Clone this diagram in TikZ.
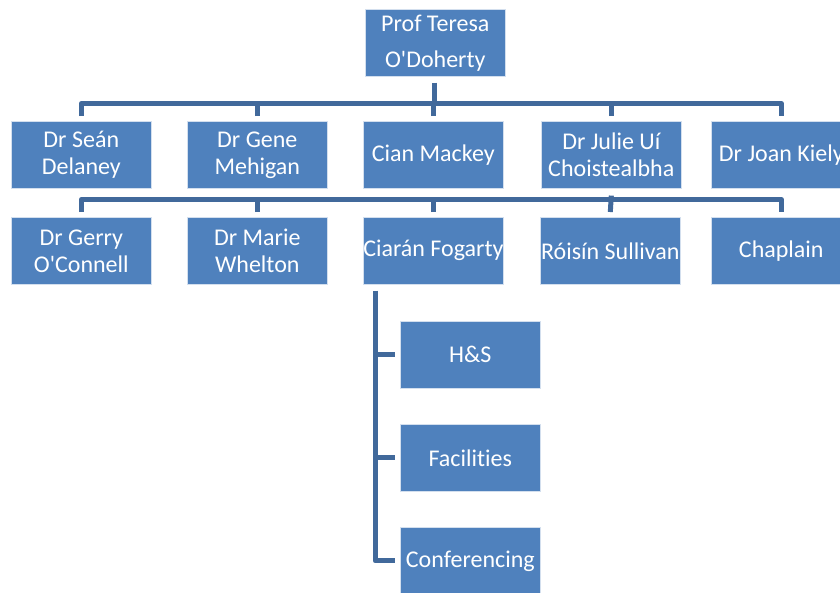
\documentclass[tikz,border=0pt]{standalone}
\usepackage{fontspec}
\setmainfont{Carlito}[Ligatures=NoCommon]
\definecolor{boxblue}{HTML}{4F81BD}
\definecolor{lineblue}{HTML}{41699B}
\begin{document}
\begin{tikzpicture}[x=1pt,y=-1pt,
  box/.style={fill=boxblue, text=white, minimum width=140pt, minimum height=67pt,
    inner sep=0pt, align=center, anchor=north west,
    font=\fontsize{24}{27}\selectfont, draw=white!75!boxblue, line width=0.6pt},
  conn/.style={draw=lineblue, line width=5pt, line join=round}]
\useasboundingbox (0,0) rectangle (840,592);
% top
\node[box, font=\fontsize{24}{36}\selectfont] (top) at (365,9) {Prof Teresa\\O\textquotesingle Doherty};
% row 1
\node[box] (r1a) at (11,121) {Dr Seán\\Delaney};
\node[box] (r1b) at (187,121) {Dr Gene\\Mehigan};
\node[box] (r1c) at (363,121) {Cian Mackey};
\node[box] (r1d) at (541,121) {Dr Julie Uí\\Choistealbha};
\node[box] (r1e) at (711,121) {Dr Joan Kiely};
% row 2
\node[box] (r2a) at (11,217) {Dr Gerry\\O\textquotesingle Connell};
\node[box] (r2b) at (187,217) {Dr Marie\\Whelton};
\node[box] (r2c) at (363,217) {Ciarán Fogarty};
\node[box] (r2d) at (540,217) {Róisín Sullivan};
\node[box] (r2e) at (711,217) {Chaplain};
% sub boxes
\node[box] (s1) at (400,321) {H\&S};
\node[box] (s2) at (400,424) {Facilities};
\node[box] (s3) at (400,527) {Conferencing};
% connectors row 1
\coordinate (b1) at (434,103.5);
\draw[conn] ([xshift=-1pt,yshift=-6pt]top.south) -- ([xshift=-1pt]top.south |- b1);
\draw[conn] ([yshift=5pt]r1a.north) |- (b1) -| ([yshift=5pt]r1e.north);
\foreach \n in {r1b,r1c,r1d}{
  \draw[conn] ([yshift=5pt]\n.north) -- (\n.north |- b1);
}
% connectors row 2
\coordinate (b2) at (434,199.5);
\draw[conn] ([yshift=5pt]r2a.north) |- (b2) -| ([yshift=5pt]r2e.north);
\foreach \n in {r2b,r2c}{
  \draw[conn] ([yshift=5pt]\n.north) -- (\n.north |- b2);
}
\draw[conn] ([yshift=5pt]r2d.north) -- ([yshift=-7pt]r1d.south);
% sub connectors
\coordinate (vx) at ([xshift=12pt,yshift=-6pt]r2c.south west);
\draw[conn] (vx) |- ([xshift=-5pt]s3.west);
\draw[conn] (vx |- s1.west) -- ([xshift=-5pt]s1.west);
\draw[conn] (vx |- s2.west) -- ([xshift=-5pt]s2.west);
\end{tikzpicture}
\end{document}
